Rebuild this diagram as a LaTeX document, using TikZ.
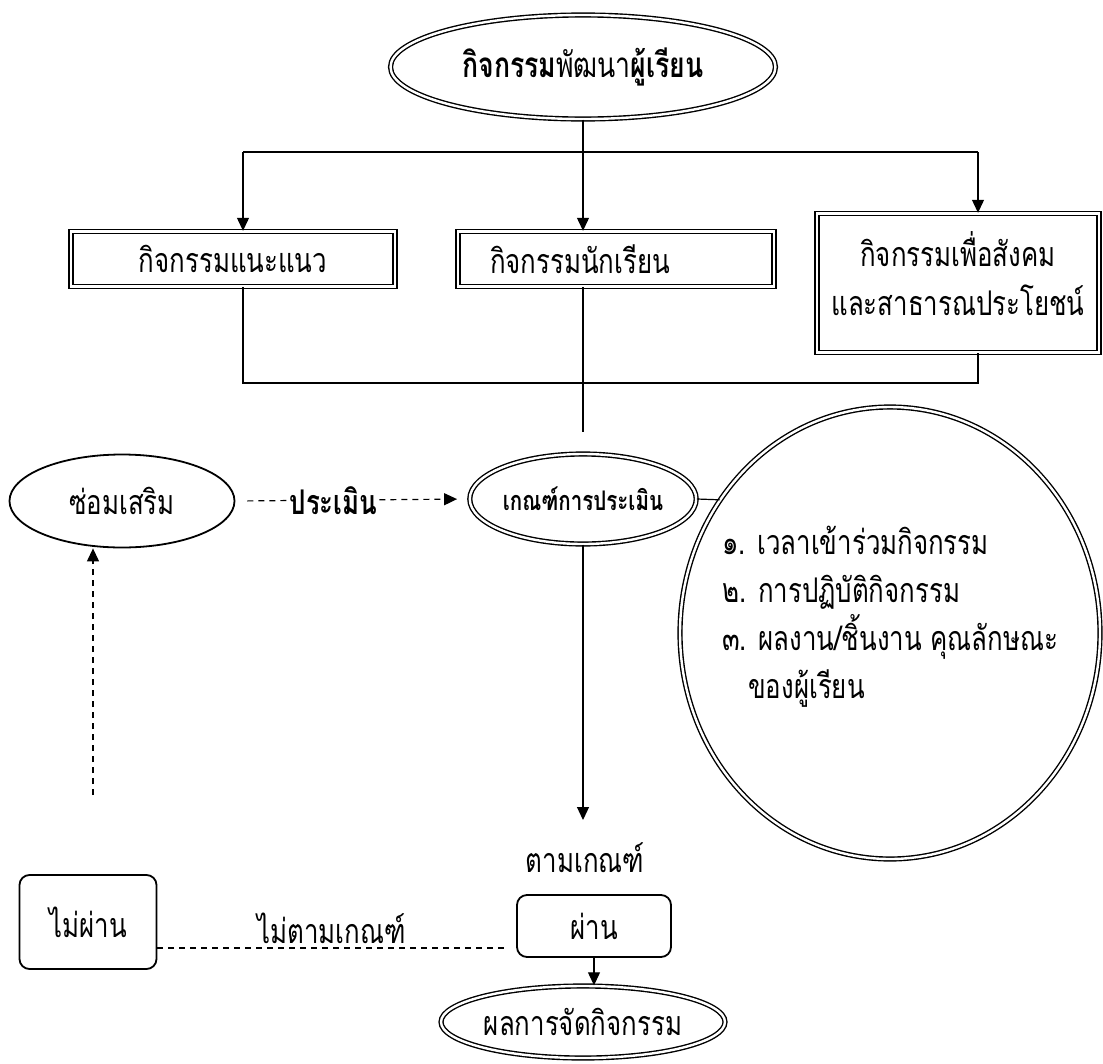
\documentclass[tikz,border=0pt]{standalone}
\usepackage{fontspec}
\setmainfont{Loma}[Script=Thai,FakeStretch=0.76]
\usetikzlibrary{arrows.meta,positioning,shapes.geometric}
\newcommand{\fsmain}{\fontsize{34}{49}\selectfont}
\newcommand{\fscrit}{\fontsize{27}{30}\selectfont}
\begin{document}
\begin{tikzpicture}[x=1pt,y=-1pt,>={Triangle[length=13pt,width=12pt]},
ln/.style={line width=1.2pt},
dsh/.style={line width=1.2pt,dash pattern=on 6pt off 5pt},
dbl/.style={draw,double,line width=1.4pt,double distance=2.4pt,inner sep=0pt,font=\fsmain},
oval/.style={ellipse,dbl},
dbox/.style={rectangle,dbl},
rbox/.style={rectangle,draw,line width=1.8pt,rounded corners=10pt,inner sep=0pt,font=\fsmain}]
\useasboundingbox (0,0) rectangle (1103,1063);
% top and activity boxes
\node[oval,minimum width=385,minimum height=104,font={\fontsize{35}{40}\selectfont}] (top) at (583,67) {\textbf{กิจกรรม}พัฒนา\textbf{ผู้เรียน}};
\node[dbox,minimum width=324,minimum height=55] (b1) at (233,259) {กิจกรรมแนะแนว};
\node[dbox,minimum width=316,minimum height=55,text width=252,align=left] (b2) at (616,259) {กิจกรรมนักเรียน};
\node[dbox,minimum width=282,minimum height=139] (b3) at (958,283) {};
\node[align=center,font=\fsmain] (b3t) at ([yshift=9pt]b3.center) {กิจกรรมเพื่อสังคม\\และสาธารณประโยชน์};
% evaluation row
\node[oval,minimum width=178,minimum height=90,font=\fscrit\bfseries] (crit) at (583,499) {เกณฑ์การประเมิน};
\node[ellipse,draw,line width=1.8pt,minimum width=225,minimum height=93,font=\fsmain] (fix) at (122,501) {ซ่อมเสริม};
\node[oval,minimum width=420,minimum height=452] (lst) at (890,633) {};
\node[anchor=west,align=left,inner sep=0pt,font={\fontsize{34}{48}\selectfont}] (lsttxt) at (722,617)
 {๑. เวลาเข้าร่วมกิจกรรม\\๒. การปฏิบัติกิจกรรม\\๓. ผลงาน/ชิ้นงาน คุณลักษณะ\\\hspace*{26pt}ของผู้เรียน};
% result row
\node[font=\fsmain] (ok) at (585,858) {ตามเกณฑ์};
\node[rbox,minimum width=154,minimum height=62] (pass) at (594,926) {ผ่าน};
\node[rbox,minimum width=137,minimum height=94] (fail) at (88,922) {ไม่ผ่าน};
\node[oval,minimum width=284,minimum height=72] (res) at (583,1022) {ผลการจัดกิจกรรม};
\coordinate (bus) at (583,152);
\coordinate (up) at (93,795);
% connectors
\draw[ln] (top.south) -- (bus);
\draw[ln] (243,152) -- (978,152);
\foreach \x/\b in {243/b1,583/b2,978/b3}{\draw[ln,->] (\x,152) -- (\b.north -| \x,0);}
\draw[ln] (b1.south -| 243,0) -- (243,383) -- (978,383) -- (b3.south -| 978,0);
\draw[ln] (b2.south -| 583,0) -- (583,432);
\draw[ln] (crit.east) -- (lst.142);
\draw[dsh,->,shorten <=12pt,shorten >=12pt] (fix.east) -- node[pos=.42,fill=white,inner sep=1pt,font=\fsmain\bfseries] (evl) {ประเมิน} (crit.west);
\draw[ln,->] (crit.south) -- (crit.south |- 0,820);
\draw[dsh] ([yshift=-26pt]fail.east) -- node[above=0pt,font=\fsmain] (nok) {ไม่ตามเกณฑ์} ([yshift=-22pt,xshift=-10pt]pass.west);
\draw[dsh,->] (up) -- (up |- fix.south);
\draw[ln,->] (pass.south) -- (pass.south |- res.north);
\end{tikzpicture}
\end{document}
